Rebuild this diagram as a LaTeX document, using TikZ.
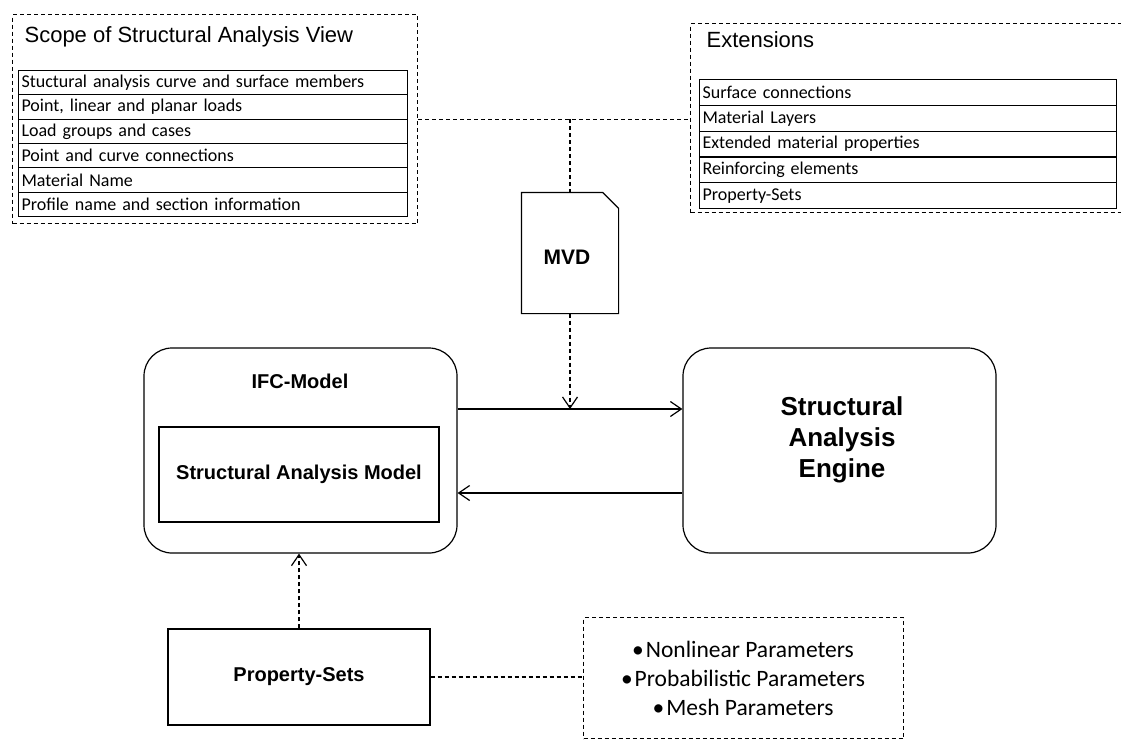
\documentclass[tikz,border=0pt]{standalone}
\usepackage{fontspec}
\setmainfont{Liberation Sans}
\newfontfamily\calib{Carlito}
\usetikzlibrary{arrows.meta,calc}
\begin{document}
\begin{tikzpicture}[x=1pt,y=-1pt,
  line width=1.2pt,
  dashbox/.style={draw, dash pattern=on 4pt off 3pt, line width=1.3pt, inner sep=0pt, anchor=north west},
  dashline/.style={draw, dash pattern=on 4pt off 3pt, line width=1.2pt},
  rowbox/.style={draw, line width=1.1pt, anchor=north west, inner xsep=3pt, inner ysep=0pt,
    align=left, font=\calib\fontsize{18}{20}\selectfont},
  title/.style={anchor=base west, inner sep=0pt, font=\fontsize{22}{25}\selectfont},
  solidbox/.style={draw, line width=1.2pt, inner sep=0pt},
  bold/.style={font=\bfseries\fontsize{20}{23}\selectfont},
  arr/.style={-{Straight Barb[length=11pt,width=15pt]}},
  param/.style={font=\calib\fontsize{23.5}{26}\selectfont, inner sep=0pt}
]
\useasboundingbox (0,0) rectangle (1121,740);
\clip (0,0) rectangle (1121,740);

% Scope box
\node[dashbox, minimum width=405, minimum height=209] (scope) at (12,14) {};
\node[title] (scopet) at (24,42) {Scope of Structural Analysis View};
\foreach \i/\t in {0/Stuctural analysis curve and surface members,
                   1/{Point, linear and planar loads},
                   2/Load groups and cases,
                   3/Point and curve connections,
                   4/Material Name,
                   5/Profile name and section information}{
  \node[rowbox, text width=383pt, minimum height=24.33pt] (s\i) at (18,{70+24.33*\i}) {\t};
}

% Extensions box
\node[dashbox, minimum width=436, minimum height=189] (ext) at (690,23) {};
\node[title] (extt) at (706,47) {Extensions};
\foreach \i/\t in {0/Surface connections,
                   1/Material Layers,
                   2/Extended material properties,
                   3/Reinforcing elements,
                   4/Property-Sets}{
  \node[rowbox, text width=411pt, minimum height=25.8pt] (e\i) at (699,{79+25.8*\i}) {\t};
}

% MVD document
\node[minimum width=96pt, minimum height=120pt, inner sep=0pt] (mvd) at (570,253) {};
\draw[line width=1.2pt] (mvd.south west) -- (mvd.north west) -- ($(mvd.north east)+(-16,0)$)
  -- ($(mvd.north east)+(0,16)$) -- (mvd.south east) -- cycle;
\node[inner sep=0pt, font=\bfseries\fontsize{21}{24}\selectfont] (mvdt) at (567,257) {MVD};

% Dashed connector between scope and extensions
\coordinate (j) at (mvd.north |- scope.east);
\draw[dashline] (scope.east) -- (scope.east -| ext.west);
\draw[dashline] (j) -- (mvd.north);

% IFC model
\node[solidbox, rounded corners=28pt, minimum width=313pt, minimum height=205pt] (ifc) at (300.5,450.5) {};
\node[bold, inner sep=0pt] (ifct) at (300,381) {IFC-Model};
\node[solidbox, minimum width=280pt, minimum height=95pt, bold] (sam) at (299,474.5) {Structural Analysis Model};

% Engine
\node[solidbox, rounded corners=28pt, minimum width=313pt, minimum height=205pt] (eng) at (839.5,450.5) {};
\node[align=center, inner sep=0pt, font=\bfseries\fontsize{26}{31}\selectfont] (engt) at (842,440) {Structural\\Analysis\\Engine};

% arrows between IFC and Engine
\coordinate (ta) at (0,409);
\coordinate (tb) at (0,493);
\draw[arr] (ifc.east |- ta) -- (eng.west |- ta);
\draw[arr] (eng.west |- tb) -- (ifc.east |- tb);
\draw[dashline, arr] (mvd.south) -- (mvd.south |- ta);

% Property sets
\node[solidbox, minimum width=262pt, minimum height=96pt, bold] (ps) at (299,677) {Property-Sets};
\draw[dashline, arr] (ps.north) -- (ps.north |- ifc.south);

% Parameters
\node[dashbox, minimum width=320pt, minimum height=121pt] (par) at (583,617) {};
\node[param] (p1) at (743,649) {\textbullet\kern2pt Nonlinear Parameters};
\node[param] (p2) at (743,678) {\textbullet\kern2pt Probabilistic Parameters};
\node[param] (p3) at (743,707) {\textbullet\kern2pt Mesh Parameters};
\draw[dashline] (ps.east) -- (ps.east -| par.west);
\end{tikzpicture}
\end{document}
